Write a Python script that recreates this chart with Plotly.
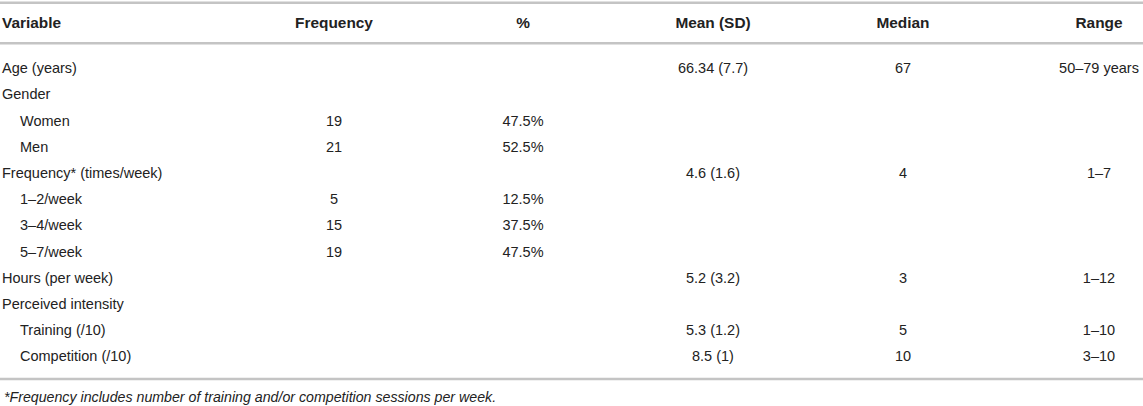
import plotly.graph_objects as go

# ---- data ----
headers = ["Variable", "Frequency", "%", "Mean (SD)", "Median", "Range"]
variables = ["Age (years)", "Gender", "Women", "Men", "Frequency* (times/week)",
             "1–2/week", "3–4/week", "5–7/week", "Hours (per week)",
             "Perceived intensity", "Training (/10)", "Competition (/10)"]
levels = [0, 0, 1, 1, 0, 1, 1, 1, 0, 0, 1, 1]
frequency = ["", "", "19", "21", "", "5", "15", "19", "", "", "", ""]
percent = ["", "", "47.5%", "52.5%", "", "12.5%", "37.5%", "47.5%", "", "", "", ""]
mean_sd = ["66.34 (7.7)", "", "", "", "4.6 (1.6)", "", "", "", "5.2 (3.2)", "", "5.3 (1.2)", "8.5 (1)"]
median = ["67", "", "", "", "4", "", "", "", "3", "", "5", "10"]
range_ = ["50–79 years", "", "", "", "1–7", "", "", "", "1–12", "", "1–10", "3–10"]
footnote = "*Frequency includes number of training and/or competition sessions per week."

# ---- layout constants ----
W, H = 1143, 406
FONT = "Liberation Sans, Arial, Helvetica, sans-serif"
TXT = "#222222"
LINE = "#c4c4c4"
row0, rowh = 69.5, 26.2
header_y = 24.2
col_x = [2, 334, 523, 713, 903, 1099]
indent = 18
BODY = 14.5
HEAD = 15.4

rows_y = [row0 + rowh * i for i in range(len(variables))]

fig = go.Figure()

# header
fig.add_trace(go.Scatter(
    x=[col_x[0]], y=[header_y], text=[headers[0]], mode="text",
    textposition="middle right",
    textfont=dict(family=FONT, size=HEAD, color=TXT, weight="bold"),
    hoverinfo="skip", showlegend=False))
fig.add_trace(go.Scatter(
    x=col_x[1:], y=[header_y] * 5, text=headers[1:], mode="text",
    textposition="middle center",
    textfont=dict(family=FONT, size=HEAD, color=TXT, weight="bold"),
    hoverinfo="skip", showlegend=False))

# variable column
fig.add_trace(go.Scatter(
    x=[col_x[0] + indent * lv for lv in levels], y=rows_y, text=variables,
    mode="text", textposition="middle right",
    textfont=dict(family=FONT, size=BODY, color=TXT),
    hoverinfo="skip", showlegend=False))

# value columns
for cx, col in zip(col_x[1:], [frequency, percent, mean_sd, median, range_]):
    fig.add_trace(go.Scatter(
        x=[cx] * len(col), y=rows_y, text=col, mode="text",
        textposition="middle center",
        textfont=dict(family=FONT, size=BODY, color=TXT),
        hoverinfo="skip", showlegend=False))

# rules
for yy in [2.7, 43.3, 379]:
    fig.add_shape(type="line", x0=0, x1=W, y0=yy, y1=yy,
                  line=dict(color=LINE, width=2.5), layer="below")

# footnote
fig.add_annotation(x=2, y=397, xref="x", yref="y", text=footnote,
                   showarrow=False, xanchor="left", yanchor="middle",
                   font=dict(family=FONT, size=14.2, color=TXT, style="italic"))

fig.update_layout(
    width=W, height=H, margin=dict(l=0, r=0, t=0, b=0),
    paper_bgcolor="white", plot_bgcolor="white",
    xaxis=dict(range=[0, W], visible=False, fixedrange=True),
    yaxis=dict(range=[H, 0], visible=False, fixedrange=True),
)

fig.write_html("out.html", config={"displayModeBar": False},
               post_script="document.body.style.margin='0';document.body.style.overflow='hidden';")
